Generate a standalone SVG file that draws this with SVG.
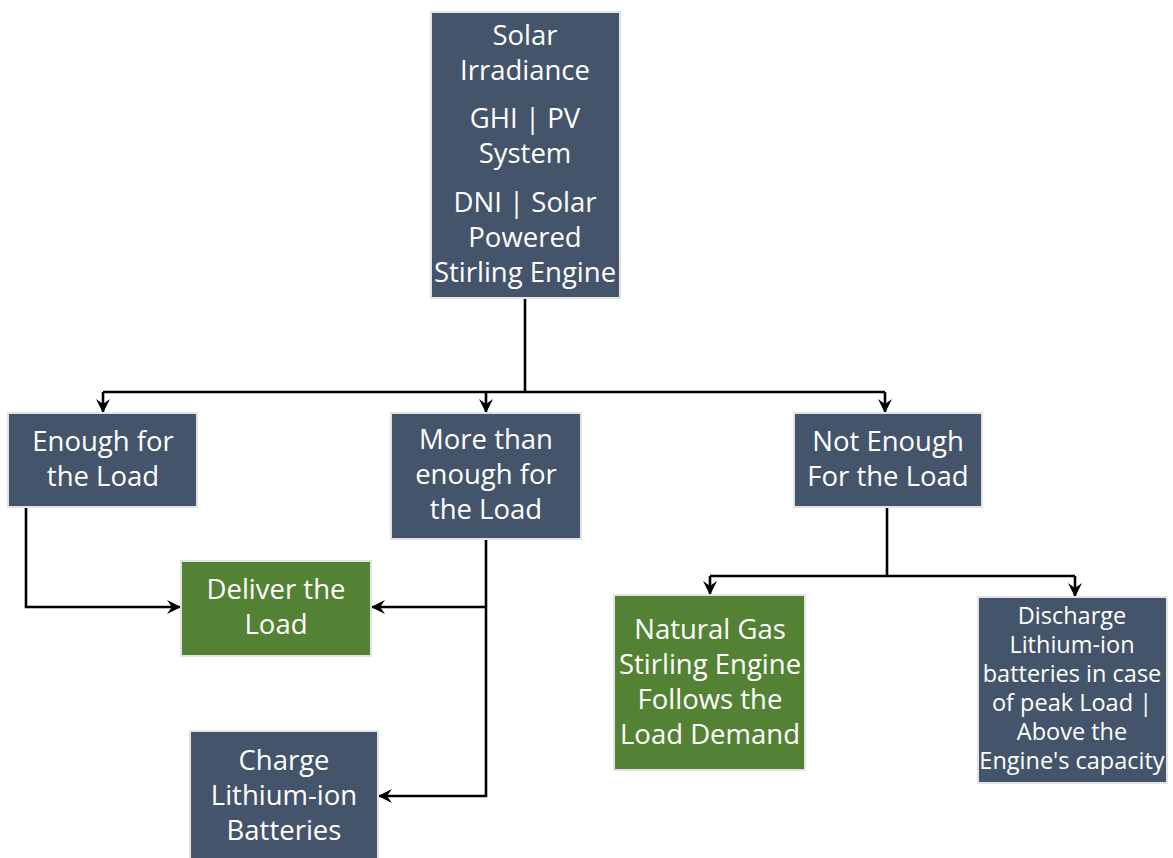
<svg xmlns="http://www.w3.org/2000/svg" width="1173" height="858" viewBox="0 0 1173 858">
<style>
.box{fill:#44546a;stroke:#e3e3e3;stroke-width:2}
.green{fill:#548235;stroke:#e3e3e3;stroke-width:2}
text{font-family:"Open Sans","Liberation Sans",sans-serif;font-size:27.5px;fill:#ffffff;text-anchor:middle}
.sm{font-size:23.5px}
.c{fill:none;stroke:#000;stroke-width:2.6}
</style>
<defs>
<marker id="ah" viewBox="0 0 14 14" refX="13" refY="7" markerWidth="14" markerHeight="14" markerUnits="userSpaceOnUse" orient="auto">
<path d="M0,0 L14,7 L0,14 L5,7 Z" fill="#000"/>
</marker>
</defs>
<g id="connectors">
<path class="c" d="M525,298 V392"/>
<path class="c" d="M103,392 H885"/>
<path class="c" d="M103,392 V412" marker-end="url(#ah)"/>
<path class="c" d="M486,392 V412" marker-end="url(#ah)"/>
<path class="c" d="M885,392 V412" marker-end="url(#ah)"/>
<path class="c" d="M26,507 V607 H180" marker-end="url(#ah)"/>
<path class="c" d="M486,539 V796 H379" marker-end="url(#ah)"/>
<path class="c" d="M486,607 H372" marker-end="url(#ah)"/>
<path class="c" d="M887,507 V576"/>
<path class="c" d="M710,576 H1075"/>
<path class="c" d="M710,576 V594" marker-end="url(#ah)"/>
<path class="c" d="M1075,576 V596" marker-end="url(#ah)"/>
</g>
<g id="solar">
<rect class="box" x="431" y="12" width="189" height="286"/>
<text x="525" y="45">Solar</text>
<text x="525" y="80">Irradiance</text>
<text x="525" y="128">GHI | PV</text>
<text x="525" y="163">System</text>
<text x="525" y="212">DNI | Solar</text>
<text x="525" y="247">Powered</text>
<text x="525" y="282">Stirling Engine</text>
</g>
<g id="enough">
<rect class="box" x="8" y="413" width="189" height="94"/>
<text x="103" y="451">Enough for</text>
<text x="103" y="486">the Load</text>
</g>
<g id="more">
<rect class="box" x="391" y="413" width="190" height="126"/>
<text x="486" y="449">More than</text>
<text x="486" y="484">enough for</text>
<text x="486" y="519">the Load</text>
</g>
<g id="notenough">
<rect class="box" x="794" y="413" width="188" height="94"/>
<text x="888" y="451">Not Enough</text>
<text x="888" y="486">For the Load</text>
</g>
<g id="deliver">
<rect class="green" x="181" y="561" width="190" height="95"/>
<text x="276" y="599">Deliver the</text>
<text x="276" y="634">Load</text>
</g>
<g id="charge">
<rect class="box" x="190" y="731" width="188" height="130"/>
<text x="284" y="770">Charge</text>
<text x="284" y="805">Lithium-ion</text>
<text x="284" y="840">Batteries</text>
</g>
<g id="naturalgas">
<rect class="green" x="614" y="595" width="191" height="175"/>
<text x="710" y="639">Natural Gas</text>
<text x="710" y="674">Stirling Engine</text>
<text x="710" y="709">Follows the</text>
<text x="710" y="744">Load Demand</text>
</g>
<g id="discharge">
<rect class="box" x="978" y="597" width="189" height="186"/>
<text class="sm" x="1072" y="624">Discharge</text>
<text class="sm" x="1072" y="653">Lithium-ion</text>
<text class="sm" x="1072" y="682">batteries in case</text>
<text class="sm" x="1072" y="711">of peak Load |</text>
<text class="sm" x="1072" y="740">Above the</text>
<text class="sm" x="1072" y="769">Engine's capacity</text>
</g>
</svg>
